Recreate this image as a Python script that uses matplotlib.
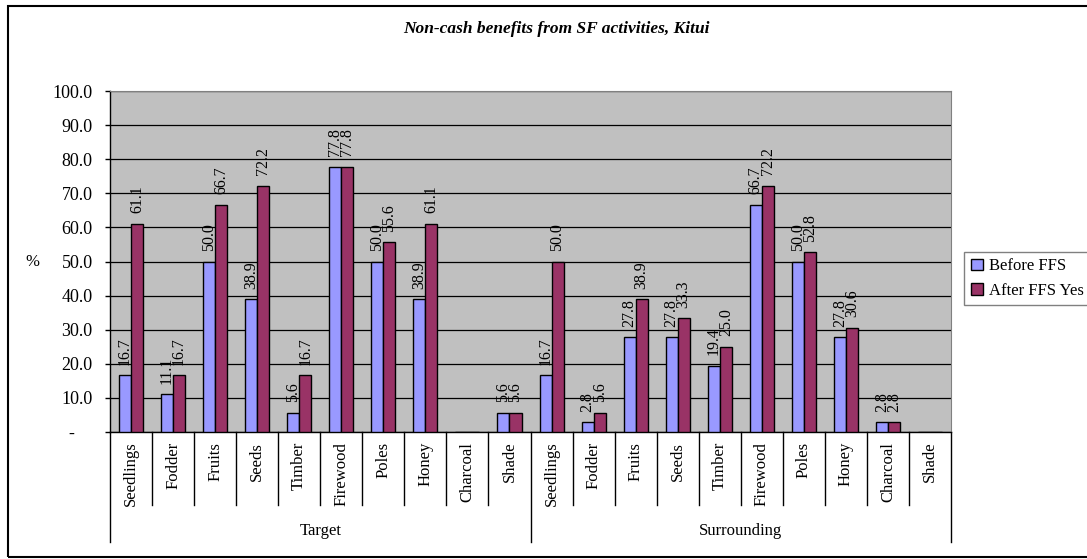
import numpy as np
import matplotlib.pyplot as plt
from matplotlib.patches import Rectangle

plt.rcParams['font.family'] = ['Liberation Serif', 'DejaVu Serif']

# Benefit categories, repeated for the two site groups
benefits = ["Seedlings", "Fodder", "Fruits", "Seeds", "Timber",
            "Firewood", "Poles", "Honey", "Charcoal", "Shade"]
groups = ["Target", "Surrounding"]

# % of respondents reporting each benefit (0 = not reported)
before_target = [16.7, 11.1, 50.0, 38.9, 5.6, 77.8, 50.0, 38.9, 0, 5.6]
after_target = [61.1, 16.7, 66.7, 72.2, 16.7, 77.8, 55.6, 61.1, 0, 5.6]
before_surr = [16.7, 2.8, 27.8, 27.8, 19.4, 66.7, 50.0, 27.8, 2.8, 0]
after_surr = [50.0, 5.6, 38.9, 33.3, 25.0, 72.2, 52.8, 30.6, 2.8, 0]

before = before_target + before_surr
after = after_target + after_surr
labels = benefits * len(groups)

fig = plt.figure(figsize=(10.87, 5.59), dpi=100)
ax = fig.add_axes([0.1012, 0.2272, 0.7737, 0.61])
ax.set_facecolor("#C0C0C0")

x = np.arange(len(labels))
w = 0.286
b1 = ax.bar(x - w / 2, before, w, color="#9999FF", edgecolor="black",
            linewidth=1.0, label="Before FFS", zorder=3)
b2 = ax.bar(x + w / 2, after, w, color="#993366", edgecolor="black",
            linewidth=1.0, label="After FFS Yes", zorder=3)

# value labels, rotated like the Excel original; skip empty bars
for bars, vals in ((b1, before), (b2, after)):
    for rect, v in zip(bars, vals):
        if v == 0:
            continue
        ax.annotate(f"{v:.1f}", (rect.get_x() + rect.get_width() / 2, v),
                    xytext=(0, 7.5), textcoords="offset points",
                    rotation=90, ha="center", va="bottom", fontsize=11.5,
                    zorder=4)

ax.set_xlim(-0.5, len(labels) - 0.5)
ax.set_ylim(0, 100)
ax.set_yticks(np.arange(0, 101, 10))
# accounting-style zero: dash sits left of the number column
ax.set_yticklabels(["-    "] + [f"{t:.1f}" for t in range(10, 101, 10)])
ax.yaxis.grid(True, color="black", linewidth=0.9, zorder=1)
ax.tick_params(axis="y", length=3.6, width=1, pad=9, labelsize=13)
ax.set_xticks(x)
ax.set_xticklabels(labels, rotation=90, fontsize=12, va="top")
ax.tick_params(axis="x", length=0, pad=7)

for side in ("top", "right"):
    ax.spines[side].set_color("#808080")
for side in ("left", "bottom"):
    ax.spines[side].set_color("black")
    ax.spines[side].set_linewidth(1.0)

ax.text(-0.092, 0.5, "%", transform=ax.transAxes, fontsize=12,
        ha="center", va="center")

# category and group dividers below the axis
trans = ax.get_xaxis_transform()
n = len(benefits)
for i in range(len(labels) + 1):
    bottom = -0.323 if i % n == 0 else -0.214
    ax.plot([i - 0.5, i - 0.5], [0, bottom], color="black", linewidth=1.0,
            transform=trans, clip_on=False)
for g, name in enumerate(groups):
    ax.text(g * n + (n - 1) / 2, -0.29, name, transform=trans,
            ha="center", va="center", fontsize=12)

fig.text(0.512, 0.948, "Non-cash benefits from SF activities, Kitui",
         ha="center", va="center", fontsize=12.5, fontweight="bold",
         style="italic")

leg = fig.legend(handles=[b1, b2], loc="upper left",
                 bbox_to_anchor=(0.887, 0.55), fontsize=12, frameon=True,
                 fancybox=False, edgecolor="#606060", handlelength=0.7,
                 handleheight=0.7, handletextpad=0.4, borderpad=0.4,
                 labelspacing=0.5, borderaxespad=0)
leg.get_frame().set_linewidth(1.0)

# outer chart border
fig.patches.append(Rectangle((8 / 1087, 2 / 559), 1.1, 1 - 8 / 559,
                             transform=fig.transFigure, fill=False,
                             edgecolor="black", linewidth=1.5))

fig.savefig("out.png", dpi=100)
plt.close("all")
